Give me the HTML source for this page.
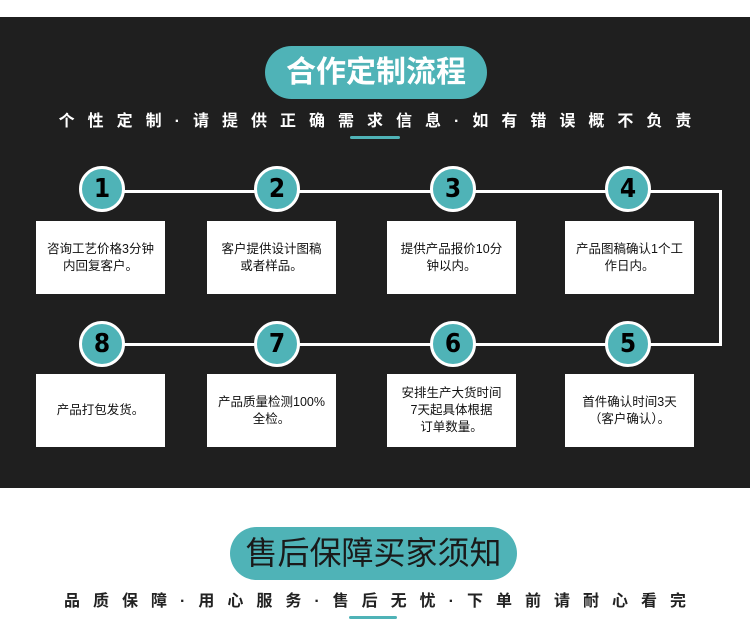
<!DOCTYPE html>
<html><head><meta charset="utf-8"><style>
body{margin:0;width:750px;height:634px;background:#fff;position:relative;overflow:hidden;font-family:"Liberation Sans","Noto Sans CJK SC",sans-serif}
.dark{position:absolute;left:0;top:17px;width:750px;height:471px;background:#1f1f1f}
.pill{position:absolute;background:#4fb3b7;border-radius:27px;text-align:center;font-weight:bold}
.sub{position:absolute;left:0;width:750px;text-align:center;font-size:16px;letter-spacing:13px;padding-left:13px;box-sizing:border-box;font-weight:bold;white-space:nowrap}
.ul{position:absolute;height:3px;background:#4fb3b7;border-radius:2px}
.c{position:absolute;width:40px;height:40px;border-radius:50%;background:#4fb3b7;border:3px solid #fff;color:#000;font-size:26px;font-weight:bold;text-align:center;line-height:40px;font-family:"DejaVu Sans Condensed","DejaVu Sans",sans-serif}
.b{position:absolute;width:129px;height:73px;background:#fff;display:flex;align-items:center;justify-content:center;text-align:center;font-size:12.5px;line-height:17px;color:#111}
.ln{position:absolute;background:#fff}
</style></head><body>
<div class="dark"></div>
<div class="pill" style="left:265px;top:46px;width:222px;height:53px;line-height:53px;color:#fff;font-size:30px">合作定制流程</div>
<div class="sub" style="top:107px;color:#fff">个性定制·请提供正确需求信息·如有错误概不负责</div>
<div class="ul" style="left:350px;top:136px;width:50px"></div>
<div class="ln" style="left:102px;top:190px;width:620px;height:3px"></div>
<div class="ln" style="left:719px;top:190px;width:3px;height:156px"></div>
<div class="ln" style="left:102px;top:343px;width:620px;height:3px"></div>
<div class="c" style="left:79px;top:166px">1</div>
<div class="c" style="left:254px;top:166px">2</div>
<div class="c" style="left:430px;top:166px">3</div>
<div class="c" style="left:605px;top:166px">4</div>
<div class="c" style="left:79px;top:321px">8</div>
<div class="c" style="left:254px;top:321px">7</div>
<div class="c" style="left:430px;top:321px">6</div>
<div class="c" style="left:605px;top:321px">5</div>
<div class="b" style="left:36px;top:221px">咨询工艺价格3分钟<br>内回复客户。</div>
<div class="b" style="left:207px;top:221px">客户提供设计图稿<br>或者样品。</div>
<div class="b" style="left:387px;top:221px">提供产品报价10分<br>钟以内。</div>
<div class="b" style="left:565px;top:221px">产品图稿确认1个工<br>作日内。</div>
<div class="b" style="left:36px;top:374px">产品打包发货。</div>
<div class="b" style="left:207px;top:374px">产品质量检测100%<br>全检。</div>
<div class="b" style="left:387px;top:374px">安排生产大货时间<br>7天起具体根据<br>订单数量。</div>
<div class="b" style="left:565px;top:374px">首件确认时间3天<br>（客户确认）。</div>
<div class="pill" style="left:230px;top:527px;width:287px;height:53px;line-height:53px;color:#1a1a1a;font-size:32px;font-weight:normal">售后保障买家须知</div>
<div class="sub" style="top:587px;color:#222">品质保障·用心服务·售后无忧·下单前请耐心看完</div>
<div class="ul" style="left:349px;top:616px;width:48px"></div>
</body></html>
